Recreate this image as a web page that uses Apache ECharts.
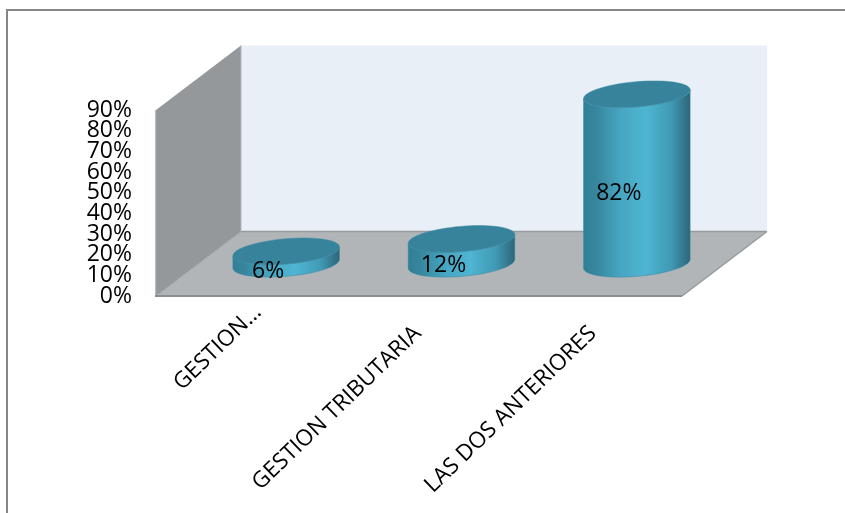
<!DOCTYPE html>
<html>
<head>
<meta charset="utf-8">
<style>html,body{margin:0;padding:0;background:#fff}#c{width:845px;height:513px}</style>
<script src="https://cdn.jsdelivr.net/npm/echarts@6/dist/echarts.min.js"></script>
</head>
<body>
<div id="c"></div>
<script>
const categories = ['GESTION…', 'GESTION TRIBUTARIA', 'LAS DOS ANTERIORES'];
const values = [6, 12, 82];
const valueTicks = [0, 10, 20, 30, 40, 50, 60, 70, 80, 90];

const FONT = '"Open Sans", sans-serif';
const DEPTH_X = 85, DEPTH_Y = -64.5;   // receding vector of the 3D box
const RX = 53.5, RY = 12.6, TILT = -5 * Math.PI / 180;

function ellipsePoint(cx, cy, t) {
  const a = RX * Math.cos(t), b = RY * Math.sin(t);
  return [cx + a * Math.cos(TILT) - b * Math.sin(TILT),
          cy + a * Math.sin(TILT) + b * Math.cos(TILT)];
}
function ellipse(cx, cy) {
  const p = [];
  for (let i = 0; i < 72; i++) p.push(ellipsePoint(cx, cy, i / 72 * Math.PI * 2));
  return p;
}
function sidePoints(cx, top, bottom) {
  const p = [];
  for (let i = 0; i <= 36; i++) p.push(ellipsePoint(cx, bottom, i / 36 * Math.PI));
  for (let i = 0; i <= 36; i++) p.push(ellipsePoint(cx, top, Math.PI - i / 36 * Math.PI));
  return p;
}
function sideFill() {
  return new echarts.graphic.LinearGradient(0, 0, 1, 0, [
    { offset: 0, color: '#2f7f97' },
    { offset: 0.12, color: '#37869e' },
    { offset: 0.35, color: '#47a6c2' },
    { offset: 0.58, color: '#4fb5d2' },
    { offset: 0.82, color: '#409ab5' },
    { offset: 0.94, color: '#33768c' },
    { offset: 1, color: '#2c6679' }
  ]);
}

function renderScene(params, api) {
  const g = params.coordSys;
  const L = g.x, R = g.x + g.width, T = g.y, B = g.y + g.height;
  const poly = (points, fill, stroke, lw) => ({
    type: 'polygon', shape: { points },
    style: { fill, stroke: stroke || 'none', lineWidth: lw || 0 }
  });
  const line = (a, b, stroke, lw) => ({
    type: 'line', shape: { x1: a[0], y1: a[1], x2: b[0], y2: b[1] },
    style: { stroke, lineWidth: lw }
  });
  const bl = [L + DEPTH_X, B + DEPTH_Y], br = [R + DEPTH_X, B + DEPTH_Y];
  const tl = [L + DEPTH_X, T + DEPTH_Y], tr = [R + DEPTH_X, T + DEPTH_Y];
  return {
    type: 'group',
    children: [
      poly([tl, tr, br, bl], '#e8eff6'),
      poly([[L, T], tl, bl, [L, B]], '#95989b'),
      poly([[L, B], [R, B], br, bl], '#b1b5b8'),
      line(tl, bl, '#b4b7ba', 1),
      line(bl, br, '#979a9d', 1.5),
      line([L, B], bl, '#a3a6a9', 1),
      line([L, T], [L, B], '#a0a3a6', 1.5),
      line(br, [R, B], '#979a9d', 1.5),
      line([L - 1, B], [R, B], '#8b8d8f', 2)
    ]
  };
}

function renderCylinder(params, api) {
  const base = api.coord([api.value(0), 0]);
  const head = api.coord([api.value(0), api.value(1)]);
  const cx = base[0] + DEPTH_X / 2;
  const bottom = base[1] + DEPTH_Y / 2;
  const top = head[1] + DEPTH_Y / 2;
  return {
    type: 'group',
    children: [
      { type: 'polygon', shape: { points: sidePoints(cx, top, bottom) },
        style: { fill: sideFill(), stroke: '#3a8aa2', lineWidth: 0.5 } },
      { type: 'polygon', shape: { points: ellipse(cx, top) },
        style: { fill: '#37839b', stroke: '#3f8ea6', lineWidth: 0.5 } },
      { type: 'text', z2: 10,
        style: { text: api.value(1) + '%', x: cx - 18, y: (top + bottom) / 2 + 14,
          align: 'center', verticalAlign: 'middle',
          font: '23px ' + FONT, fill: '#000' } }
    ]
  };
}

// The tick labels sit closer than their line height, so they are split over two
// coincident axes; otherwise ECharts drops the ones next to the end labels.
function valueAxis(ticks) {
  return {
    type: 'value', position: 'left', min: 0, max: 90, interval: 10,
    axisLine: { show: false }, axisTick: { show: false }, splitLine: { show: false },
    axisLabel: {
      margin: 24, color: '#000', fontFamily: FONT, fontSize: 23,
      showMinLabel: true, showMaxLabel: true, hideOverlap: false,
      customValues: ticks,
      formatter: v => v + '%'
    }
  };
}

const chart = echarts.init(document.getElementById('c'), null, { renderer: 'canvas' });
chart.setOption({
  animation: false,
  backgroundColor: '#fff',
  graphic: [{
    type: 'rect', silent: true, z: -10,
    shape: { x: 7, y: 10, width: 900, height: 600 },
    style: { fill: 'none', stroke: '#868686', lineWidth: 2 }
  }],
  grid: { left: 156, right: 163, top: 110, bottom: 217 },
  xAxis: {
    type: 'category', data: categories,
    axisLine: { show: false }, axisTick: { show: false }, splitLine: { show: false },
    axisLabel: {
      interval: 0, rotate: 44, margin: -2, color: '#000', hideOverlap: false,
      fontFamily: FONT, fontSize: 22.5,
      formatter: (v, i) => i === 0 ? '{a|' + v + '}' : '{b|' + v + '}',
      rich: {
        a: { fontFamily: FONT, fontSize: 22.5, color: '#000', padding: [41, 0, 0, 0] },
        b: { fontFamily: FONT, fontSize: 22.5, color: '#000', padding: [50, 26, 0, 0] }
      }
    }
  },
  yAxis: [
    valueAxis(valueTicks.filter((v, i) => i % 2 === 0)),
    valueAxis(valueTicks.filter((v, i) => i % 2 === 1))
  ],
  series: [
    { type: 'custom', silent: true, z: 1, data: [0], renderItem: renderScene, clip: false },
    { type: 'custom', silent: true, z: 2, clip: false,
      encode: { x: 0, y: 1 },
      data: categories.map((c, i) => [i, values[i]]),
      renderItem: renderCylinder }
  ]
});
</script>
</body>
</html>
